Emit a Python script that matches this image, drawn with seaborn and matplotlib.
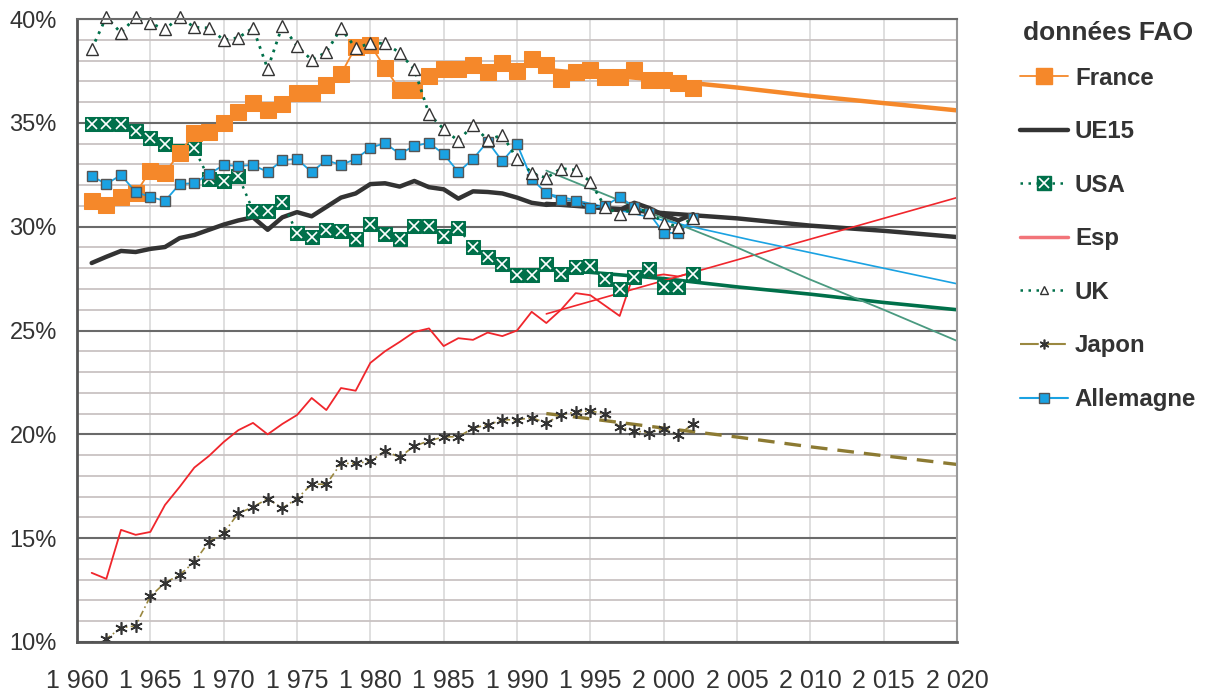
import numpy as np
import pandas as pd
import matplotlib
matplotlib.use("Agg")
import matplotlib.pyplot as plt
import seaborn as sns
from matplotlib.lines import Line2D
from matplotlib.legend_handler import HandlerTuple

# ---------------- data ----------------
years = list(range(1961, 2003))

france = [31.24, 31.05, 31.43, 31.6, 32.7, 32.6, 33.55, 34.5, 34.56, 35.0,
          35.5, 35.95, 35.6, 35.9, 36.44, 36.44, 36.8, 37.35, 38.65, 38.75,
          37.65, 36.6, 36.6, 37.25, 37.6, 37.6, 37.8, 37.45, 37.9, 37.5,
          38.05, 37.8, 37.1, 37.45, 37.55, 37.2, 37.2, 37.55, 37.06, 37.06,
          36.9, 36.7]
ue15 = [28.25, 28.55, 28.83, 28.78, 28.93, 29.02, 29.45, 29.6, 29.85, 30.1,
        30.3, 30.45, 29.85, 30.45, 30.7, 30.5, 30.95, 31.4, 31.6, 32.05,
        32.09, 31.93, 32.2, 31.9, 31.8, 31.35, 31.7, 31.67, 31.6, 31.4,
        31.15, 31.05, 31.1, 31.1, 31.0, 30.85, 30.8, 31.15, 30.9, 30.55,
        30.3, 30.6]
usa = [34.94, 34.92, 34.92, 34.6, 34.28, 33.98, 33.66, 33.77, 32.3, 32.2,
       32.45, 30.77, 30.77, 31.2, 29.7, 29.5, 29.84, 29.8, 29.4, 30.13,
       29.63, 29.4, 30.03, 30.03, 29.56, 29.95, 29.0, 28.54, 28.2, 27.67,
       27.67, 28.2, 27.72, 28.06, 28.1, 27.48, 27.0, 27.58, 27.96, 27.1,
       27.1, 27.72]
esp = [13.33, 13.04, 15.4, 15.16, 15.3, 16.6, 17.47, 18.4, 18.96, 19.63,
       20.2, 20.55, 20.0, 20.5, 20.93, 21.75, 21.17, 22.23, 22.1, 23.44,
       24.0, 24.45, 24.93, 25.1, 24.25, 24.63, 24.55, 24.9, 24.73, 25.0,
       25.9, 25.36, 26.0, 26.8, 26.7, 26.2, 25.7, 27.8, 27.6, 27.7,
       27.6, 27.8]
uk = [38.55, 40.1, 39.33, 40.1, 39.8, 39.5, 40.1, 39.6, 39.57, 38.99,
      39.1, 39.57, 37.6, 39.68, 38.7, 38.03, 38.4, 39.55, 38.6, 38.83,
      38.83, 38.38, 37.57, 35.43, 34.7, 34.13, 34.9, 34.17, 34.42, 33.26,
      32.6, 32.34, 32.8, 32.73, 32.17, 30.95, 30.6, 30.9, 30.7, 30.2,
      30.0, 30.4]
japon = [9.75, 10.15, 10.68, 10.78, 12.2, 12.85, 13.23, 13.86, 14.83, 15.25,
         16.2, 16.5, 16.9, 16.45, 16.9, 17.6, 17.6, 18.6, 18.6, 18.7,
         19.2, 18.9, 19.44, 19.68, 19.88, 19.88, 20.3, 20.45, 20.7, 20.7,
         20.8, 20.55, 20.93, 21.08, 21.13, 20.98, 20.36, 20.17, 20.07, 20.26,
         19.97, 20.5]
allemagne = [32.44, 32.05, 32.49, 31.67, 31.43, 31.24, 32.05, 32.1, 32.53, 32.97,
             32.92, 32.97, 32.63, 33.2, 33.26, 32.63, 33.2, 32.97, 33.26, 33.79,
             34.03, 33.5, 33.89, 34.03, 33.5, 32.63, 33.26, 34.1, 33.15, 33.98,
             32.3, 31.62, 31.29, 31.24, 30.9, 31.0, 31.43, 30.95, 30.65, 29.7,
             29.7, 30.4]

# trend lines
fr_trend_years = [1992, 2000, 2005, 2010, 2015, 2020]
fr_trend = [37.55, 37.05, 36.7, 36.3, 35.95, 35.6]
ue_trend_years = [1992, 1997, 2000, 2005, 2010, 2015, 2020]
ue_trend = [31.1, 30.85, 30.65, 30.4, 30.05, 29.8, 29.5]
usa_trend_years = [1992, 1995, 2000, 2005, 2010, 2015, 2020]
usa_trend = [28.0, 27.8, 27.5, 27.1, 26.75, 26.35, 26.0]
esp_trend_years = [1992, 2000, 2010, 2020]
esp_trend = [25.8, 27.4, 29.4, 31.4]
uk_trend_years = [1992, 2000, 2005, 2010, 2015, 2020]
uk_trend = [32.7, 30.4, 29.0, 27.45, 26.0, 24.5]
jp_trend_years = [1992, 1995, 2000, 2005, 2010, 2015, 2020]
jp_trend = [21.0, 20.75, 20.3, 19.87, 19.4, 18.97, 18.55]
de_trend_years = [1992, 2000, 2006, 2010, 2015, 2020]
de_trend = [31.6, 30.3, 29.35, 28.75, 28.0, 27.25]

x_ticks = list(range(1960, 2021, 5))
x_labels = [f"{t // 1000} {t % 1000:03d}" for t in x_ticks]
y_ticks = list(range(10, 41, 5))
y_labels = [f"{t}%" for t in y_ticks]
legend_title = "données FAO"

# ---------------- style ----------------
sns.set_style("white")
plt.rcParams['font.family'] = ['Liberation Sans', 'DejaVu Sans']

C_FR = "#F5882A"
C_UE = "#333333"
C_US = "#00704A"
C_ES = "#F0262C"
C_UKT = "#4A9A80"
C_JP = "#9A8840"
C_JPT = "#8C7A32"
C_DE = "#1AA2E2"
C_TXT = "#333333"

fig = plt.figure(figsize=(12.05, 6.93), dpi=100)
ax = fig.add_axes([77 / 1205, 1 - 642 / 693, (957 - 77) / 1205, (642 - 19) / 693])

# grid
ax.set_xlim(1960, 2020)
ax.set_ylim(10, 40)
ax.set_yticks(y_ticks)
ax.set_yticks(range(10, 41), minor=True)
ax.set_xticks(x_ticks)
ax.yaxis.grid(True, which='minor', color="#c9c3c3", lw=1.3, zorder=0)
ax.yaxis.grid(True, which='major', color="#6a6a6a", lw=1.5, zorder=0)
ax.xaxis.grid(True, which='major', color="#dcdcdc", lw=1.3, zorder=0)
ax.set_axisbelow(True)

# trends
sns.lineplot(x=fr_trend_years, y=fr_trend, ax=ax, color=C_FR, lw=3.2)
sns.lineplot(x=ue_trend_years, y=ue_trend, ax=ax, color=C_UE, lw=3.2)
sns.lineplot(x=usa_trend_years, y=usa_trend, ax=ax, color=C_US, lw=2.6)
sns.lineplot(x=esp_trend_years, y=esp_trend, ax=ax, color=C_ES, lw=1.2)
sns.lineplot(x=uk_trend_years, y=uk_trend, ax=ax, color=C_UKT, lw=1.3)
sns.lineplot(x=jp_trend_years, y=jp_trend, ax=ax, color=C_JPT, lw=2.4, dashes=False,
             linestyle=(0, (5, 3)))
sns.lineplot(x=de_trend_years, y=de_trend, ax=ax, color=C_DE, lw=1.2)

# data series
sns.lineplot(x=years, y=esp, ax=ax, color=C_ES, lw=1.3)
sns.lineplot(x=years, y=ue15, ax=ax, color=C_UE, lw=3.2)
sns.lineplot(x=years, y=japon, ax=ax, color=C_JP, lw=1.2, linestyle=(0, (4, 2, 1, 2)),
             marker=(6, 2, 0), markersize=9, markeredgecolor=C_TXT, markeredgewidth=1.2)
sns.lineplot(x=years, y=usa, ax=ax, color=C_US, lw=1.8, linestyle=(0, (1, 2.2)),
             marker='s', markersize=10, markerfacecolor=C_US, markeredgecolor=C_US)
sns.lineplot(x=years, y=usa, ax=ax, lw=0, marker='x', markersize=7,
             markeredgecolor="white", markeredgewidth=1.2, color="white")
sns.lineplot(x=years, y=france, ax=ax, color=C_FR, lw=1.3,
             marker='s', markersize=11, markerfacecolor=C_FR, markeredgecolor=C_FR)
sns.lineplot(x=years, y=allemagne, ax=ax, color=C_DE, lw=1.3,
             marker='s', markersize=6.5, markerfacecolor=C_DE, markeredgecolor="#555555",
             markeredgewidth=1.0)
sns.lineplot(x=years, y=uk, ax=ax, color=C_US, lw=2.0, linestyle=(0, (1, 2.0)),
             marker='^', markersize=8.5, markerfacecolor="white", markeredgecolor="#333333",
             markeredgewidth=1.0, clip_on=False)

ax.set_xlabel("")
ax.set_ylabel("")
ax.set_xticklabels(x_labels)
ax.set_yticklabels(y_labels)
ax.tick_params(axis='both', which='major', direction='inout', length=13, width=1.5,
               colors="#555555", labelcolor=C_TXT)
ax.tick_params(axis='x', pad=13, labelsize=18)
ax.tick_params(axis='y', pad=8, labelsize=17)
ax.tick_params(axis='y', which='minor', length=0)

for s in ['left', 'bottom']:
    ax.spines[s].set_color("#555555")
    ax.spines[s].set_linewidth(2)
ax.spines['top'].set_color("#6a6a6a")
ax.spines['top'].set_linewidth(1.5)
ax.spines['right'].set_color("#999999")
ax.spines['right'].set_linewidth(1.5)

# legend
h_fr = Line2D([], [], color=C_FR, lw=1.3, marker='s', markersize=11, markerfacecolor=C_FR,
              markeredgecolor=C_FR)
h_ue = Line2D([], [], color=C_UE, lw=3.2)
h_us1 = Line2D([], [], color=C_US, lw=1.8, linestyle=(0, (1, 2.2)), marker='s', markersize=10,
               markerfacecolor=C_US, markeredgecolor=C_US)
h_us2 = Line2D([], [], lw=0, marker='x', markersize=7, markeredgecolor="white",
               markeredgewidth=1.2)
h_es = Line2D([], [], color="#F27479", lw=2.5)
h_uk = Line2D([], [], color=C_US, lw=1.8, linestyle=(0, (1, 2.2)), marker='^', markersize=6,
              markerfacecolor="white", markeredgecolor="#333333")
h_jp = Line2D([], [], color=C_JP, lw=1.5, linestyle=(0, (9, 4)), marker=(6, 2, 0), markersize=7,
              markeredgecolor=C_TXT, markeredgewidth=1.2)
h_de = Line2D([], [], color=C_DE, lw=1.5, marker='s', markersize=6.5, markerfacecolor=C_DE,
              markeredgecolor="#555555")

handles = [h_fr, h_ue, (h_us1, h_us2), h_es, h_uk, h_jp, h_de]
labels = ["France", "UE15", "USA", "Esp", "UK", "Japon", "Allemagne"]
leg = fig.legend(handles, labels, loc='upper left', bbox_to_anchor=(998 / 1205, 1 + 1 / 693),
                 frameon=False, title=legend_title,
                 prop={'size': 17.3, 'weight': 'bold'},
                 title_fontproperties={'size': 19, 'weight': 'bold'},
                 handlelength=2.0, handletextpad=0.3, labelspacing=1.27,
                 handler_map={tuple: HandlerTuple(ndivide=1)})
for t in leg.get_texts():
    t.set_color(C_TXT)
leg.get_title().set_color(C_TXT)
leg._legend_box.sep = 16

fig.savefig("out.png", dpi=100)
